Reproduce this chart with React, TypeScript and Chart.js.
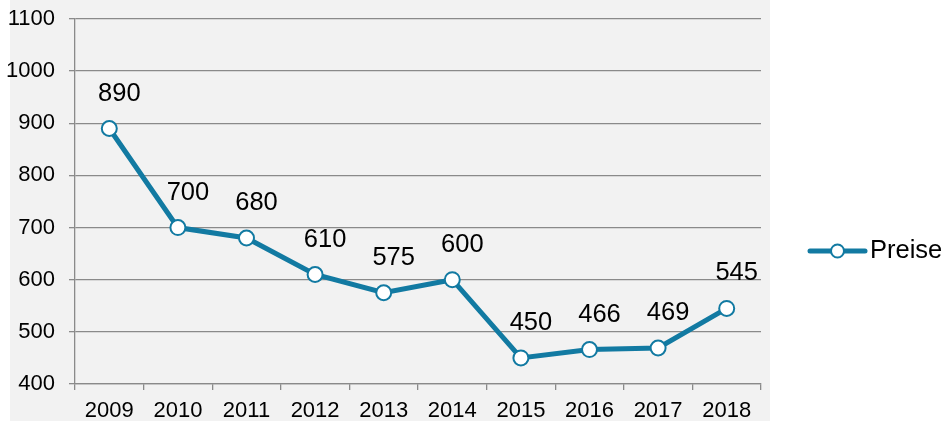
import React, { useEffect, useRef } from "react";
import { Chart, registerables } from "chart.js";

Chart.register(...registerables);

const categories = ["2009", "2010", "2011", "2012", "2013", "2014", "2015", "2016", "2017", "2018"];
const preise = [890, 700, 680, 610, 575, 600, 450, 466, 469, 545];
const seriesName = "Preise";
const yMin = 400;
const yMax = 1100;
const yStep = 100;

const BLUE = "#127aa2";
const GRID = "#8a8a8a";
const BG = "#f2f2f2";
const FONT = "'Liberation Sans', Arial, sans-serif";

const bgPlugin = {
  id: "bgPlugin",
  beforeDraw(chart: any) {
    const ctx = chart.ctx;
    ctx.save();
    ctx.fillStyle = BG;
    ctx.fillRect(10, 0, 760, chart.height);
    ctx.restore();
  },
};

const labelPlugin = {
  id: "labelPlugin",
  afterDatasetsDraw(chart: any) {
    const ctx = chart.ctx;
    const meta = chart.getDatasetMeta(0);
    const data = chart.data.datasets[0].data;
    ctx.save();
    ctx.font = `25.5px ${FONT}`;
    ctx.fillStyle = "#000";
    ctx.textAlign = "center";
    ctx.textBaseline = "alphabetic";
    meta.data.forEach((pt: any, i: number) => {
      ctx.fillText(String(data[i]), pt.x + 10, pt.y - 28);
    });
    ctx.restore();
  },
};

const legendPlugin = {
  id: "legendPlugin",
  afterDraw(chart: any) {
    const ctx = chart.ctx;
    const x0 = chart.chartArea.right + 49;
    const y = 251;
    ctx.save();
    ctx.strokeStyle = BLUE;
    ctx.lineWidth = 5;
    ctx.lineCap = "round";
    ctx.beginPath();
    ctx.moveTo(x0, y);
    ctx.lineTo(x0 + 55, y);
    ctx.stroke();
    ctx.beginPath();
    ctx.arc(x0 + 27.5, y, 6.5, 0, Math.PI * 2);
    ctx.fillStyle = "#fff";
    ctx.fill();
    ctx.lineWidth = 2;
    ctx.stroke();
    ctx.font = `25.5px ${FONT}`;
    ctx.fillStyle = "#000";
    ctx.textAlign = "left";
    ctx.textBaseline = "middle";
    ctx.fillText(seriesName, x0 + 60, y);
    ctx.restore();
  },
};

export default function App() {
  const ref = useRef<HTMLCanvasElement>(null);
  useEffect(() => {
    if (!ref.current) return;
    const chart = new Chart(ref.current, {
      type: "line",
      data: {
        labels: categories,
        datasets: [
          {
            label: seriesName,
            data: preise,
            borderColor: BLUE,
            borderWidth: 5,
            backgroundColor: "#fff",
            pointBackgroundColor: "#fff",
            pointBorderColor: BLUE,
            pointBorderWidth: 2,
            pointRadius: 7.5,
            tension: 0,
          },
        ],
      },
      options: {
        responsive: false,
        animation: false,
        layout: { padding: { top: 19, right: 187, left: 0, bottom: 0 } },
        plugins: { legend: { display: false }, tooltip: { enabled: false } },
        scales: {
          x: {
            type: "category",
            offset: true,
            grid: {
              offset: true,
              drawOnChartArea: false,
              drawTicks: true,
              tickLength: 6,
              color: GRID,
              lineWidth: 1.3,
            },
            border: { color: GRID, width: 1.3 },
            ticks: {
              color: "#000",
              font: { family: FONT, size: 22 },
              padding: 8,
              maxRotation: 0,
              autoSkip: false,
            },
            afterFit: (s: any) => {
              s.height = 37;
            },
          },
          y: {
            min: yMin,
            max: yMax,
            grid: { color: GRID, lineWidth: 1.3, tickLength: 6 },
            border: { color: GRID, width: 1.3 },
            ticks: {
              stepSize: yStep,
              color: "#000",
              font: { family: FONT, size: 22, lineHeight: 0.4 },
              padding: 14,
              callback: (v: any) => String(v),
            },
            afterFit: (s: any) => {
              s.width = 75;
            },
          },
        },
      },
      plugins: [bgPlugin, labelPlugin, legendPlugin],
    });
    return () => chart.destroy();
  }, []);
  return (
    <div style={{ position: "fixed", left: 0, top: 0, width: 948, height: 421, background: "#fff" }}>
      <canvas ref={ref} width={948} height={421} />
    </div>
  );
}
